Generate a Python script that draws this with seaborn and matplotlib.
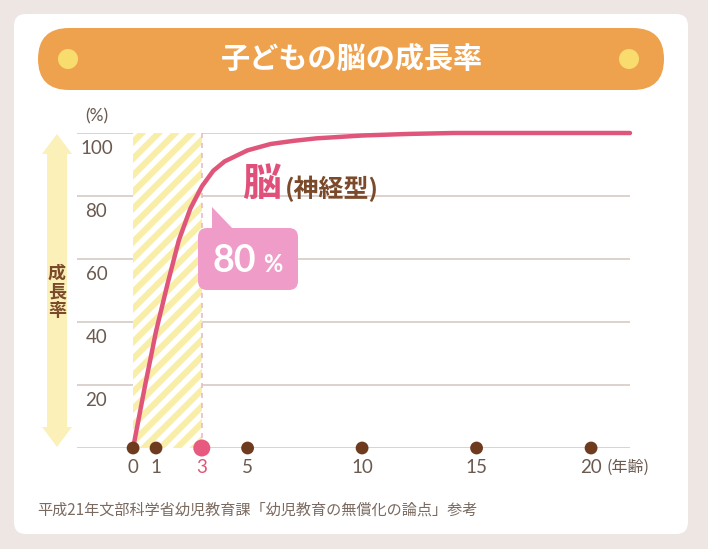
import numpy as np
import pandas as pd
import seaborn as sns
import matplotlib
matplotlib.use("Agg")
import matplotlib.pyplot as plt
from matplotlib.patches import FancyBboxPatch, Polygon, Circle

# ---- data ----
ages = [0, 0.5, 1, 1.5, 2, 2.5, 3, 3.5, 4, 5, 6, 7, 8, 10, 12, 14, 16, 20, 21.7]
growth = [0, 19, 37, 52, 66, 76, 83, 88, 91, 94.5, 96.5, 97.5, 98.3, 99.2, 99.7, 100, 100, 100, 100]
tick_ages = [0, 1, 3, 5, 10, 15, 20]
tick_labels = ["0", "1", "3", "5", "10", "15", "20"]
y_ticks = [20, 40, 60, 80, 100]
highlight_age = 3
title = "子どもの脳の成長率"
curve_label = "脳"
curve_sub = "(神経型)"
y_label = "成長率"
x_unit = "(年齢)"
y_unit = "(%)"
source = "平成21年文部科学省幼児教育課「幼児教育の無償化の論点」参考"

sns.set_theme(style="white")
JP = ["Noto Sans CJK JP", "DejaVu Sans"]
NUM = ["Lato", "DejaVu Sans"]
plt.rcParams["hatch.linewidth"] = 4.0

W, H = 708, 549
fig = plt.figure(figsize=(W / 100, H / 100), dpi=100)
fig.patch.set_facecolor("#eee6e2")

# background overlay (pixel coords)
bg = fig.add_axes([0, 0, 1, 1], zorder=0)
bg.set_xlim(0, W)
bg.set_ylim(H, 0)
bg.axis("off")
bg.add_patch(FancyBboxPatch((14, 14), 674, 520, boxstyle="round,pad=0,rounding_size=12",
                            fc="white", ec="none"))
bg.add_patch(FancyBboxPatch((38, 28), 626, 62, boxstyle="round,pad=0,rounding_size=31",
                            fc="#efa24e", ec="none"))
bg.add_patch(Circle((68, 59), 10, fc="#f8dc6e", ec="none"))
bg.add_patch(Circle((629, 59), 10, fc="#f8dc6e", ec="none"))
bg.text(352, 59, title, ha="center", va="center", color="white", fontsize=21,
        fontweight="bold", family=JP)
# double arrow
cx, top, bot = 57, 134, 447
sw, hw, hl = 10, 15, 20
bg.add_patch(Polygon([(cx, top), (cx + hw, top + hl), (cx + sw, top + hl), (cx + sw, bot - hl),
                      (cx + hw, bot - hl), (cx, bot), (cx - hw, bot - hl), (cx - sw, bot - hl),
                      (cx - sw, top + hl), (cx - hw, top + hl)], closed=True,
                     fc="#faf0b8", ec="none"))
bg.text(cx, 292, "\n".join(y_label), ha="center", va="center", color="#7b4a2a",
        fontsize=13, fontweight="bold", family=JP, linespacing=1.0)
bg.text(37, 510, source, ha="left", va="center", color="#7a6a60", fontsize=10.9, family=JP)

# main axes
ax = fig.add_axes([77 / W, 1 - 448 / H, 553 / W, 315 / H], zorder=1)
ax.set_facecolor("none")
ax.set_xlim(-2.45, 21.7)
ax.set_ylim(0, 100)
for s in ax.spines.values():
    s.set_visible(False)
ax.set_xticks([])
ax.set_yticks([])

for v in [0] + y_ticks:
    ax.axhline(v, color="#d9cfc9", lw=1.3, zorder=1)

ax.fill_between([0, highlight_age], 0, 100, facecolor="#f8eea8", edgecolor="white",
                hatch="//", linewidth=0, zorder=2)
ax.plot([highlight_age, highlight_age], [0, 100], color="#e7bcc6", lw=1.2,
        ls=(0, (3, 3)), zorder=2)

df = pd.DataFrame({"age": ages, "growth": growth})
sns.lineplot(data=df, x="age", y="growth", ax=ax, color="#e0567a", lw=3.2,
             zorder=4, clip_on=False)

dots = pd.DataFrame({"age": tick_ages, "v": [0] * len(tick_ages)})
normal = dots[dots["age"] != highlight_age]
sns.scatterplot(data=normal, x="age", y="v", ax=ax, s=85, color="#6e3b1e",
                edgecolor="none", zorder=5, clip_on=False)
sns.scatterplot(x=[highlight_age], y=[0], ax=ax, s=150, color="#e8597f",
                edgecolor="none", zorder=5, clip_on=False)
ax.set_xlabel("")
ax.set_ylabel("")

for a, lab in zip(tick_ages, tick_labels):
    col = "#e0567a" if a == highlight_age else "#6b5a50"
    ax.annotate(lab, (a, 0), xytext=(0, -14), textcoords="offset points",
                ha="center", va="center", fontsize=13.5, color=col, family=NUM)
ax.annotate(x_unit, (20, 0), xytext=(11, -14), textcoords="offset points",
            ha="left", va="center", fontsize=11.5, color="#6b5a50", family=JP)
for v in y_ticks:
    ax.annotate(str(v), (-2.45, v), xytext=(14, -11), textcoords="offset points",
                ha="center", va="center", fontsize=13.5, color="#6b5a50", family=NUM)
ax.annotate(y_unit, (-2.45, 100), xytext=(14, 12), textcoords="offset points",
            ha="center", va="center", fontsize=12.5, color="#6b5a50", family=NUM)

# overlay for annotations
ov = fig.add_axes([0, 0, 1, 1], zorder=3)
ov.set_xlim(0, W)
ov.set_ylim(H, 0)
ov.axis("off")
ov.add_patch(FancyBboxPatch((198, 228), 100, 62, boxstyle="round,pad=0,rounding_size=9",
                            fc="#ef9dc8", ec="none"))
ov.add_patch(Polygon([(212, 230), (212, 207), (234, 230)], closed=True,
                     fc="#ef9dc8", ec="none"))
ov.text(234, 261, "80", ha="center", va="center", color="white", fontsize=27,
        fontweight="bold", family=NUM)
ov.text(273, 265, "%", ha="center", va="center", color="white", fontsize=17,
        fontweight="bold", family=NUM)
ov.text(262, 184, curve_label, ha="center", va="center", color="#e0507a", fontsize=28,
        fontweight="bold", family=JP)
ov.text(285, 189, curve_sub, ha="left", va="center", color="#7b4a2a", fontsize=18,
        fontweight="bold", family=JP)

fig.savefig("out.png", dpi=100, facecolor=fig.get_facecolor())
